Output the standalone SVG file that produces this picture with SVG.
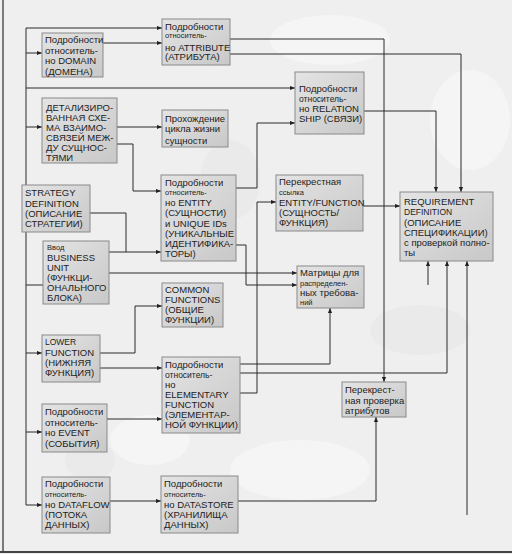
<svg xmlns="http://www.w3.org/2000/svg" width="512" height="554" viewBox="0 0 512 554">
<defs>
<linearGradient id="bg" x1="0" y1="0" x2="1" y2="1">
<stop offset="0" stop-color="#e4e4e4"/>
<stop offset="1" stop-color="#c8c8c8"/>
</linearGradient>
<marker id="ar" viewBox="0 0 6 6" refX="6" refY="3" markerWidth="5" markerHeight="5" orient="auto" markerUnits="userSpaceOnUse">
<path d="M0,0.5 L6,3 L0,5.5 z" fill="#222"/>
</marker>
</defs>
<style>
.box{fill:url(#bg);stroke:#8a8a8a;stroke-width:1}
.c{fill:none;stroke:#2a2a2a;stroke-width:1}
.a{marker-end:url(#ar)}
text{font-family:"Liberation Sans",Arial,sans-serif;font-size:9.5px;fill:#222}
.s{font-size:7.5px}
.m{font-size:8.5px}
</style>
<rect x="0" y="0" width="512" height="554" fill="#efefef"/>
<g fill="#f5f5f5">
<ellipse cx="330" cy="40" rx="60" ry="25"/>
<ellipse cx="470" cy="120" rx="40" ry="50"/>
<ellipse cx="300" cy="470" rx="70" ry="30"/>
<ellipse cx="150" cy="440" rx="40" ry="25"/>
</g>
<g fill="#eaeaea">
<ellipse cx="420" cy="330" rx="50" ry="25"/>
<ellipse cx="230" cy="180" rx="30" ry="40"/>
<ellipse cx="90" cy="460" rx="25" ry="20"/>
</g>
<line x1="3" y1="0" x2="3" y2="553" stroke="#555" stroke-width="1.5"/>
<line x1="0" y1="552" x2="512" y2="552" stroke="#444" stroke-width="2"/>

<g id="connectors">
<path class="c" d="M26,28 V505"/>
<path class="c a" d="M26,28 H162"/>
<path class="c a" d="M26,53 H42"/>
<path class="c a" d="M26,88 H295"/>
<path class="c a" d="M26,127 H42"/>
<path class="c" d="M26,285 H43"/>
<path class="c a" d="M26,353 H42"/>
<path class="c a" d="M26,432 H42"/>
<path class="c a" d="M26,505 H42"/>
<path class="c a" d="M103,43 H162"/>
<path class="c a" d="M230,39 H384 V382"/>
<path class="c a" d="M230,54 H461 V192"/>
<path class="c a" d="M364,111 H436 V192"/>
<path class="c a" d="M117,127 H162"/>
<path class="c a" d="M117,144 H133 V191 H161"/>
<path class="c a" d="M236,188 H257 V123 H295"/>
<path class="c a" d="M90,213 H126 V252 H161"/>
<path class="c" d="M109,252 H126"/>
<path class="c a" d="M109,273 H297"/>
<path class="c a" d="M236,245 H246 V285 H297"/>
<path class="c a" d="M240,393 H257 V202 H276"/>
<path class="c a" d="M240,364 H330 V308"/>
<path class="c a" d="M240,373 H447 V261"/>
<path class="c a" d="M363,206 H400"/>
<path class="c a" d="M428,285 V261"/>
<path class="c a" d="M467,515 V261"/>
<path class="c a" d="M100,353 H135 V306 H162"/>
<path class="c a" d="M100,368 H162"/>
<path class="c a" d="M107,419 H162"/>
<path class="c a" d="M110,501 H161"/>
<path class="c a" d="M238,501 H376 V417"/>
</g>

<g id="domain">
<rect class="box" x="42" y="33" width="61" height="44"/>
<text x="45" y="43">Подробности</text>
<text x="45" y="53.5">относитель-</text>
<text x="45" y="64">но DOMAIN</text>
<text x="45" y="74.5">(ДОМЕНА)</text>
</g>
<g id="attribute">
<rect class="box" x="162" y="19" width="68" height="46"/>
<text x="165" y="29.5">Подробности</text>
<text class="s" x="165" y="38">относитель-</text>
<text x="165" y="50.5">но ATTRIBUTE</text>
<text x="165" y="60">(АТРИБУТА)</text>
</g>
<g id="detail">
<rect class="box" x="42" y="98" width="75" height="65"/>
<text x="46" y="110.5">ДЕТАЛИЗИРО-</text>
<text x="46" y="120.5">ВАННАЯ СХЕ-</text>
<text x="46" y="131">МА ВЗАИМО-</text>
<text x="46" y="140.5">СВЯЗЕЙ МЕЖ-</text>
<text x="46" y="150.5">ДУ СУЩНОС-</text>
<text x="46" y="160.5">ТЯМИ</text>
</g>
<g id="lifecycle">
<rect class="box" x="162" y="110" width="66" height="37"/>
<text x="165" y="122">Прохождение</text>
<text x="165" y="132">цикла жизни</text>
<text x="165" y="143.5">сущности</text>
</g>
<g id="relationship">
<rect class="box" x="295" y="72" width="69" height="62"/>
<text x="299" y="92">Подробности</text>
<text class="m" x="299" y="102">относитель-</text>
<text x="299" y="112">но RELATION</text>
<text x="299" y="122">SHIP (СВЯЗИ)</text>
</g>
<g id="strategy">
<rect class="box" x="22" y="185" width="68" height="47"/>
<text x="25" y="196">STRATEGY</text>
<text x="25" y="207">DEFINITION</text>
<text x="25" y="217">(ОПИСАНИЕ</text>
<text x="25" y="227">СТРАТЕГИИ)</text>
</g>
<g id="entity">
<rect class="box" x="161" y="175" width="75" height="86"/>
<text x="165" y="185.5">Подробности</text>
<text class="s" x="165" y="195">относитель-</text>
<text x="165" y="206">но ENTITY</text>
<text x="165" y="216">(СУЩНОСТИ)</text>
<text x="165" y="226.5">и UNIQUE IDs</text>
<text x="165" y="236.5">(УНИКАЛЬНЫЕ</text>
<text x="165" y="246.5">ИДЕНТИФИКА-</text>
<text x="165" y="256.5">ТОРЫ)</text>
</g>
<g id="business">
<rect class="box" x="43" y="241" width="66" height="63"/>
<text class="s" x="47" y="250">Ввод</text>
<text x="47" y="261">BUSINESS</text>
<text x="47" y="271">UNIT</text>
<text x="47" y="281">(ФУНКЦИ-</text>
<text x="47" y="291">ОНАЛЬНОГО</text>
<text x="47" y="301">БЛОКА)</text>
</g>
<g id="common">
<rect class="box" x="162" y="283" width="61" height="44"/>
<text x="165" y="293">COMMON</text>
<text x="165" y="303">FUNCTIONS</text>
<text x="165" y="313">(ОБЩИЕ</text>
<text x="165" y="323">ФУНКЦИИ)</text>
</g>
<g id="crossref">
<rect class="box" x="276" y="175" width="87" height="56"/>
<text x="279" y="185">Перекрестная</text>
<text class="s" x="279" y="195">ссылка</text>
<text x="279" y="206">ENTITY/FUNCTION</text>
<text x="279" y="216">(СУЩНОСТЬ/</text>
<text x="279" y="226">ФУНКЦИЯ)</text>
</g>
<g id="requirement">
<rect class="box" x="400" y="192" width="93" height="69"/>
<text x="404" y="204.5">REQUIREMENT</text>
<text class="m" x="404" y="214.5">DEFINITION</text>
<text x="404" y="225.5">(ОПИСАНИЕ</text>
<text x="404" y="235.5">СПЕЦИФИКАЦИИ)</text>
<text x="404" y="245.5">с проверкой полно-</text>
<text x="404" y="256">ты</text>
</g>
<g id="matrices">
<rect class="box" x="297" y="266" width="67" height="42"/>
<text x="300" y="276">Матрицы для</text>
<text class="s" x="300" y="286">распределен-</text>
<text x="300" y="296">ных требова-</text>
<text class="s" x="300" y="304.5">ний</text>
</g>
<g id="lower">
<rect class="box" x="42" y="335" width="58" height="47"/>
<text class="m" x="45" y="345">LOWER</text>
<text x="45" y="356">FUNCTION</text>
<text x="45" y="366">(НИЖНЯЯ</text>
<text x="45" y="376">ФУНКЦИЯ)</text>
</g>
<g id="elementary">
<rect class="box" x="162" y="357" width="78" height="76"/>
<text x="165" y="367.5">Подробности</text>
<text class="m" x="165" y="378">относитель-</text>
<text x="165" y="388">но</text>
<text x="165" y="397.5">ELEMENTARY</text>
<text x="165" y="407.5">FUNCTION</text>
<text x="165" y="417.5">(ЭЛЕМЕНТАР-</text>
<text x="165" y="427.5">НОЙ ФУНКЦИИ)</text>
</g>
<g id="event">
<rect class="box" x="42" y="404" width="65" height="48"/>
<text x="45" y="415">Подробности</text>
<text x="45" y="426">относитель-</text>
<text x="45" y="436">но EVENT</text>
<text x="45" y="447">(СОБЫТИЯ)</text>
</g>
<g id="attrcheck">
<rect class="box" x="342" y="382" width="64" height="35"/>
<text x="345" y="393">Перекрест-</text>
<text x="345" y="403.5">ная проверка</text>
<text x="345" y="413.5">атрибутов</text>
</g>
<g id="dataflow">
<rect class="box" x="42" y="477" width="68" height="56"/>
<text x="45" y="487">Подробности</text>
<text class="s" x="45" y="497">относитель-</text>
<text x="45" y="507.5">но DATAFLOW</text>
<text x="45" y="518">(ПОТОКА</text>
<text x="45" y="528">ДАННЫХ)</text>
</g>
<g id="datastore">
<rect class="box" x="161" y="476" width="77" height="57"/>
<text x="164" y="487">Подробности</text>
<text class="s" x="164" y="497">относитель-</text>
<text x="164" y="507.5">но DATASTORE</text>
<text x="164" y="518">(ХРАНИЛИЩА</text>
<text x="164" y="528">ДАННЫХ)</text>
</g>
</svg>
